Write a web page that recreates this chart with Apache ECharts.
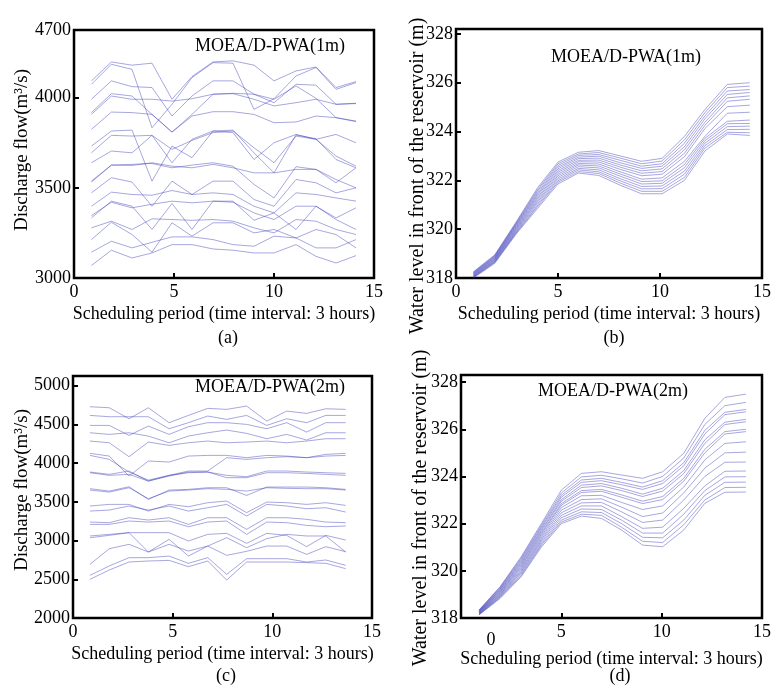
<!DOCTYPE html>
<html>
<head>
<meta charset="utf-8">
<script src="https://cdn.jsdelivr.net/npm/echarts@6/dist/echarts.min.js"></script>
<style>
html,body{margin:0;padding:0;background:#fff;}
#chart{width:774px;height:695px;}
</style>
</head>
<body>
<div id="chart"></div>
<script>
// x positions (scheduling period) of the plotted points in each panel
const periodA = [0.87,1.87,2.9,3.9,4.9,5.9,6.95,7.95,9.0,10.0,11.1,12.1,13.1,14.1];
const periodB = [0.85,1.9,2.95,4.0,5.0,6.0,7.0,8.05,9.1,10.1,11.2,12.2,13.3,14.4];
const periodC = [0.85,1.82,2.81,3.78,4.82,5.79,6.76,7.71,8.71,9.72,10.72,11.72,12.68,13.68];
const periodD = [0.9,1.95,3.0,4.0,5.0,6.0,7.0,8.0,9.05,10.05,11.1,12.15,13.15,14.2];

// (a) discharge flow, MOEA/D-PWA(1m)
const flowA = [
 [4093,4198,4180,4191,3991,4117,4198,4204,4180,4093,4148,4170,4056,4089],
 [4074,4185,4157,3833,3963,4111,4194,4191,3935,3994,4120,4167,4046,4083],
 [3991,4093,4061,4056,3898,4009,4093,4093,4019,3972,4074,4069,3963,3967],
 [3917,4022,4009,3907,3809,3907,4019,4024,4019,3991,4065,3996,3889,3870],
 [3907,4009,3991,3991,3981,3994,4019,4022,3991,3954,3972,3991,3963,3969],
 [3824,3920,3917,3907,3809,3898,3922,3922,3907,3861,3865,3898,3889,3867],
 [3731,3815,3820,3537,3731,3667,3815,3820,3694,3583,3793,3772,3657,3611],
 [3694,3791,3787,3791,3713,3763,3806,3815,3722,3639,3787,3769,3676,3620],
 [3639,3704,3694,3791,3639,3769,3815,3806,3657,3750,3796,3769,3796,3750],
 [3537,3626,3630,3635,3611,3626,3639,3620,3519,3444,3617,3602,3528,3611],
 [3532,3626,3624,3639,3620,3611,3630,3611,3583,3583,3602,3602,3546,3500],
 [3472,3556,3532,3398,3537,3463,3537,3537,3435,3398,3546,3528,3472,3500],
 [3398,3476,3463,3459,3485,3463,3472,3463,3398,3361,3472,3463,3444,3426],
 [3346,3420,3389,3409,3426,3417,3426,3420,3361,3324,3398,3398,3333,3389],
 [3333,3426,3398,3269,3413,3269,3426,3426,3320,3361,3269,3398,3324,3269],
 [3278,3315,3269,3328,3324,3320,3324,3315,3278,3250,3324,3315,3269,3241],
 [3213,3309,3241,3143,3306,3232,3306,3306,3250,3269,3222,3269,3241,3167],
 [3143,3204,3167,3198,3228,3228,3213,3185,3176,3232,3222,3167,3167,3213],
 [3069,3154,3111,3139,3185,3185,3161,3154,3139,3139,3185,3120,3083,3124]
];

// (b) water level, MOEA/D-PWA(1m)
const levelB = [
 [318.25,318.95,320.30,321.70,322.75,323.15,323.22,323.00,322.78,322.90,323.80,324.90,325.93,326.00],
 [318.23,318.92,320.26,321.63,322.68,323.08,323.14,322.91,322.68,322.79,323.66,324.77,325.80,325.86],
 [318.21,318.90,320.22,321.57,322.61,323.02,323.06,322.82,322.58,322.68,323.52,324.64,325.66,325.72],
 [318.19,318.87,320.19,321.50,322.54,322.95,322.99,322.72,322.49,322.58,323.38,324.52,325.52,325.60],
 [318.17,318.84,320.15,321.44,322.47,322.89,322.91,322.63,322.39,322.47,323.25,324.38,325.38,325.46],
 [318.15,318.82,320.11,321.38,322.40,322.82,322.83,322.54,322.29,322.36,323.11,324.25,325.24,325.32],
 [318.13,318.79,320.07,321.31,322.33,322.76,322.75,322.45,322.19,322.25,322.97,324.12,325.02,325.08],
 [318.11,318.76,320.03,321.25,322.26,322.69,322.67,322.35,322.05,322.10,322.78,323.80,324.75,324.79],
 [318.09,318.74,319.99,321.18,322.19,322.63,322.59,322.26,321.95,321.98,322.65,323.72,324.42,324.47],
 [318.07,318.71,319.95,321.12,322.12,322.56,322.51,322.17,321.85,321.88,322.52,323.62,324.32,324.33],
 [318.05,318.68,319.91,321.05,322.05,322.49,322.43,322.07,321.75,321.77,322.38,323.52,324.20,324.22],
 [318.04,318.66,319.87,320.98,321.98,322.43,322.35,321.98,321.65,321.66,322.25,323.42,324.08,324.09],
 [318.02,318.63,319.84,320.92,321.92,322.36,322.28,321.89,321.55,321.55,322.12,323.32,323.97,323.95],
 [318.00,318.60,319.80,320.85,321.85,322.30,322.20,321.80,321.45,321.45,322.00,323.20,323.90,323.84]
];

// (c) discharge flow, MOEA/D-PWA(2m)
const flowC = [
 [4728,4715,4573,4715,4522,4616,4707,4694,4737,4543,4672,4642,4702,4694],
 [4616,4599,4599,4599,4444,4522,4608,4565,4616,4487,4573,4522,4616,4616],
 [4487,4487,4358,4478,4371,4470,4522,4522,4500,4444,4522,4401,4522,4522],
 [4392,4371,4392,4349,4263,4349,4392,4427,4384,4315,4371,4298,4392,4392],
 [4285,4263,4083,4272,4229,4263,4285,4263,4272,4285,4263,4285,4315,4315],
 [4126,4091,3833,4027,4014,4091,4100,4100,4070,4100,4091,4070,4113,4126],
 [4100,4048,3885,3781,3842,3898,3898,4070,4048,4070,4083,4070,4091,4100],
 [3885,3855,3898,3768,3833,3885,3885,3842,3824,3898,3898,3885,3876,3867],
 [3876,3842,3855,3768,3842,3876,3885,3812,3812,3876,3876,3867,3855,3842],
 [3670,3639,3695,3532,3652,3661,3682,3682,3583,3691,3691,3691,3682,3661],
 [3652,3626,3682,3540,3639,3652,3670,3661,3639,3682,3674,3670,3670,3652],
 [3446,3467,3467,3381,3467,3437,3489,3510,3360,3497,3489,3467,3489,3454],
 [3381,3394,3446,3394,3446,3381,3424,3467,3317,3467,3446,3411,3424,3368],
 [3239,3231,3295,3265,3295,3209,3295,3295,3145,3295,3295,3274,3239,3231],
 [3209,3209,3252,3239,3252,3179,3239,3252,3080,3239,3231,3196,3179,3188],
 [3059,3080,3102,3102,3102,2994,3080,3093,2964,3093,3067,2921,3067,3007],
 [3037,3067,3102,2852,3016,2800,2929,3037,2908,3024,3080,3059,3059,2852],
 [2693,2895,2951,2852,2951,2865,2929,2809,2861,2929,2929,2822,2921,2856],
 [2551,2672,2779,2779,2800,2706,2779,2564,2766,2766,2766,2723,2749,2680],
 [2499,2620,2723,2736,2744,2663,2736,2490,2723,2723,2723,2715,2706,2637]
];

// (d) water level, MOEA/D-PWA(2m)
const levelD = [
 [318.34,319.33,320.60,322.00,323.42,324.13,324.20,324.06,323.92,324.20,324.98,326.46,327.35,327.49],
 [318.33,319.30,320.54,321.93,323.30,323.98,324.05,323.90,323.72,324.00,324.78,326.20,327.00,327.14],
 [318.31,319.27,320.49,321.86,323.20,323.85,323.92,323.75,323.55,323.82,324.58,325.95,326.72,326.84],
 [318.30,319.23,320.43,321.80,323.12,323.75,323.82,323.65,323.45,323.70,324.45,325.80,326.62,326.74],
 [318.28,319.20,320.37,321.73,323.02,323.63,323.70,323.50,323.25,323.50,324.25,325.55,326.30,326.42],
 [318.27,319.17,320.32,321.67,322.95,323.53,323.60,323.40,323.15,323.38,324.12,325.40,326.20,326.32],
 [318.26,319.13,320.26,321.60,322.85,323.40,323.45,323.22,322.95,323.15,323.92,325.15,325.90,326.00],
 [318.24,319.10,320.20,321.54,322.78,323.32,323.37,323.12,322.85,323.02,323.80,325.00,325.80,325.90],
 [318.23,319.07,320.15,321.47,322.68,323.18,323.20,322.90,322.60,322.75,323.55,324.70,325.40,325.47],
 [318.21,319.03,320.09,321.40,322.57,323.02,323.05,322.70,322.30,322.45,323.30,324.35,325.00,325.03],
 [318.20,319.00,320.03,321.33,322.46,322.88,322.90,322.50,322.05,322.15,323.00,324.00,324.60,324.61],
 [318.18,318.97,319.97,321.27,322.35,322.75,322.75,322.30,321.80,321.85,322.65,323.60,324.22,324.23],
 [318.17,318.93,319.92,321.20,322.25,322.62,322.60,322.15,321.60,321.60,322.40,323.40,323.98,323.99],
 [318.16,318.90,319.86,321.13,322.15,322.50,322.47,322.00,321.42,321.40,322.15,323.20,323.75,323.76],
 [318.14,318.87,319.80,321.07,322.07,322.40,322.35,321.85,321.25,321.20,321.95,323.00,323.53,323.54],
 [318.13,318.83,319.75,321.00,322.00,322.32,322.22,321.73,321.09,321.02,321.73,322.86,323.33,323.34]
];

const xTitle = 'Scheduling period (time interval: 3 hours)';
const flowTitle = 'Discharge flow(m\u00b3/s)';
const levelTitle = 'Water level in front of the reservoir (m)';
const methodNames = ['MOEA/D-PWA(1m)','MOEA/D-PWA(1m)','MOEA/D-PWA(2m)','MOEA/D-PWA(2m)'];
const captions = ['(a)','(b)','(c)','(d)'];

const FONT = 'Liberation Serif';
const txt = {fontFamily: FONT, fontSize: 18, color: '#000'};
const chart = echarts.init(document.getElementById('chart'), null, {renderer: 'canvas'});

const grids = [
  {left: 74, top: 30, width: 300, height: 248},
  {left: 456, top: 29, width: 307, height: 249},
  {left: 73, top: 376, width: 299, height: 242},
  {left: 461, top: 375, width: 305, height: 243}
].map(g => Object.assign(g, {show: true, borderColor: '#000', borderWidth: 2.5, backgroundColor: 'transparent', containLabel: false}));

function xAxisFor(i) {
  return {
    type: 'value', gridIndex: i, min: 0, max: 15, interval: 5,
    name: xTitle, nameLocation: 'middle', nameGap: 27,
    nameTextStyle: Object.assign({}, txt),
    axisLine: {show: false},
    axisTick: {show: true, inside: true, length: 5, lineStyle: {color: '#000', width: 2}},
    splitLine: {show: false},
    axisLabel: Object.assign({margin: 5,
      formatter: i === 3 ? (v => v === 0 ? '{z|0}' : String(v)) : (v => String(v)),
      rich: {z: Object.assign({}, txt, {padding: [8, 0, 0, 60]})}
    }, txt)
  };
}
const yCfg = [
  {min: 3000, max: 4375, interval: 500, fmt: v => v > 4300 ? '4700' : String(v)},
  {min: 318, max: 328.2, interval: 2, fmt: v => (v % 2 === 0) ? String(v) : ''},
  {min: 2000, max: 5125, interval: 500, fmt: v => (v % 500 === 0) ? String(v) : ''},
  {min: 318, max: 328.3, interval: 2, fmt: v => (v % 2 === 0) ? String(v) : ''}
];
function yAxisFor(i) {
  const c = yCfg[i];
  return {
    type: 'value', gridIndex: i, min: c.min, max: c.max, interval: c.interval,
    axisLine: {show: false},
    axisTick: {show: true, inside: true, length: 5, lineStyle: {color: '#000', width: 2}},
    splitLine: {show: false},
    axisLabel: Object.assign({margin: 3, formatter: c.fmt}, txt)
  };
}

const panels = [
  {x: periodA, ys: flowA},
  {x: periodB, ys: levelB},
  {x: periodC, ys: flowC},
  {x: periodD, ys: levelD}
];
const series = [];
panels.forEach((p, i) => {
  p.ys.forEach(line => {
    series.push({
      type: 'line', xAxisIndex: i, yAxisIndex: i,
      data: line.map((v, k) => [p.x[k], v]),
      symbol: 'none', silent: true, animation: false,
      lineStyle: {color: 'rgba(60,60,185,0.45)', width: 1}
    });
  });
});

const titlePos = [[270, 46], [626, 57], [270, 387], [613, 391]];
const capPos = [[228, 338], [614, 338], [226, 676], [620, 676]];
const yTitles = [
  {text: flowTitle, x: 22, y: 150, size: 19},
  {text: levelTitle, x: 418, y: 176, size: 20},
  {text: flowTitle, x: 22, y: 490, size: 19},
  {text: levelTitle, x: 421, y: 508, size: 20}
];
const graphics = [];
titlePos.forEach((p, i) => graphics.push({type: 'text', x: p[0], y: p[1],
  style: {text: methodNames[i], font: '18px "Liberation Serif"', fill: '#000', textAlign: 'center', textVerticalAlign: 'middle'}}));
capPos.forEach((p, i) => graphics.push({type: 'text', x: p[0], y: p[1],
  style: {text: captions[i], font: '18px "Liberation Serif"', fill: '#000', textAlign: 'center', textVerticalAlign: 'middle'}}));
yTitles.forEach(t => graphics.push({type: 'text', x: t.x, y: t.y, rotation: Math.PI / 2,
  style: {text: t.text, font: t.size + 'px "Liberation Serif"', fill: '#000', textAlign: 'center', textVerticalAlign: 'middle'}}));

chart.setOption({
  animation: false,
  backgroundColor: '#fff',
  grid: grids,
  xAxis: [0,1,2,3].map(xAxisFor),
  yAxis: [0,1,2,3].map(yAxisFor),
  series: series,
  graphic: graphics
});
</script>
</body>
</html>
